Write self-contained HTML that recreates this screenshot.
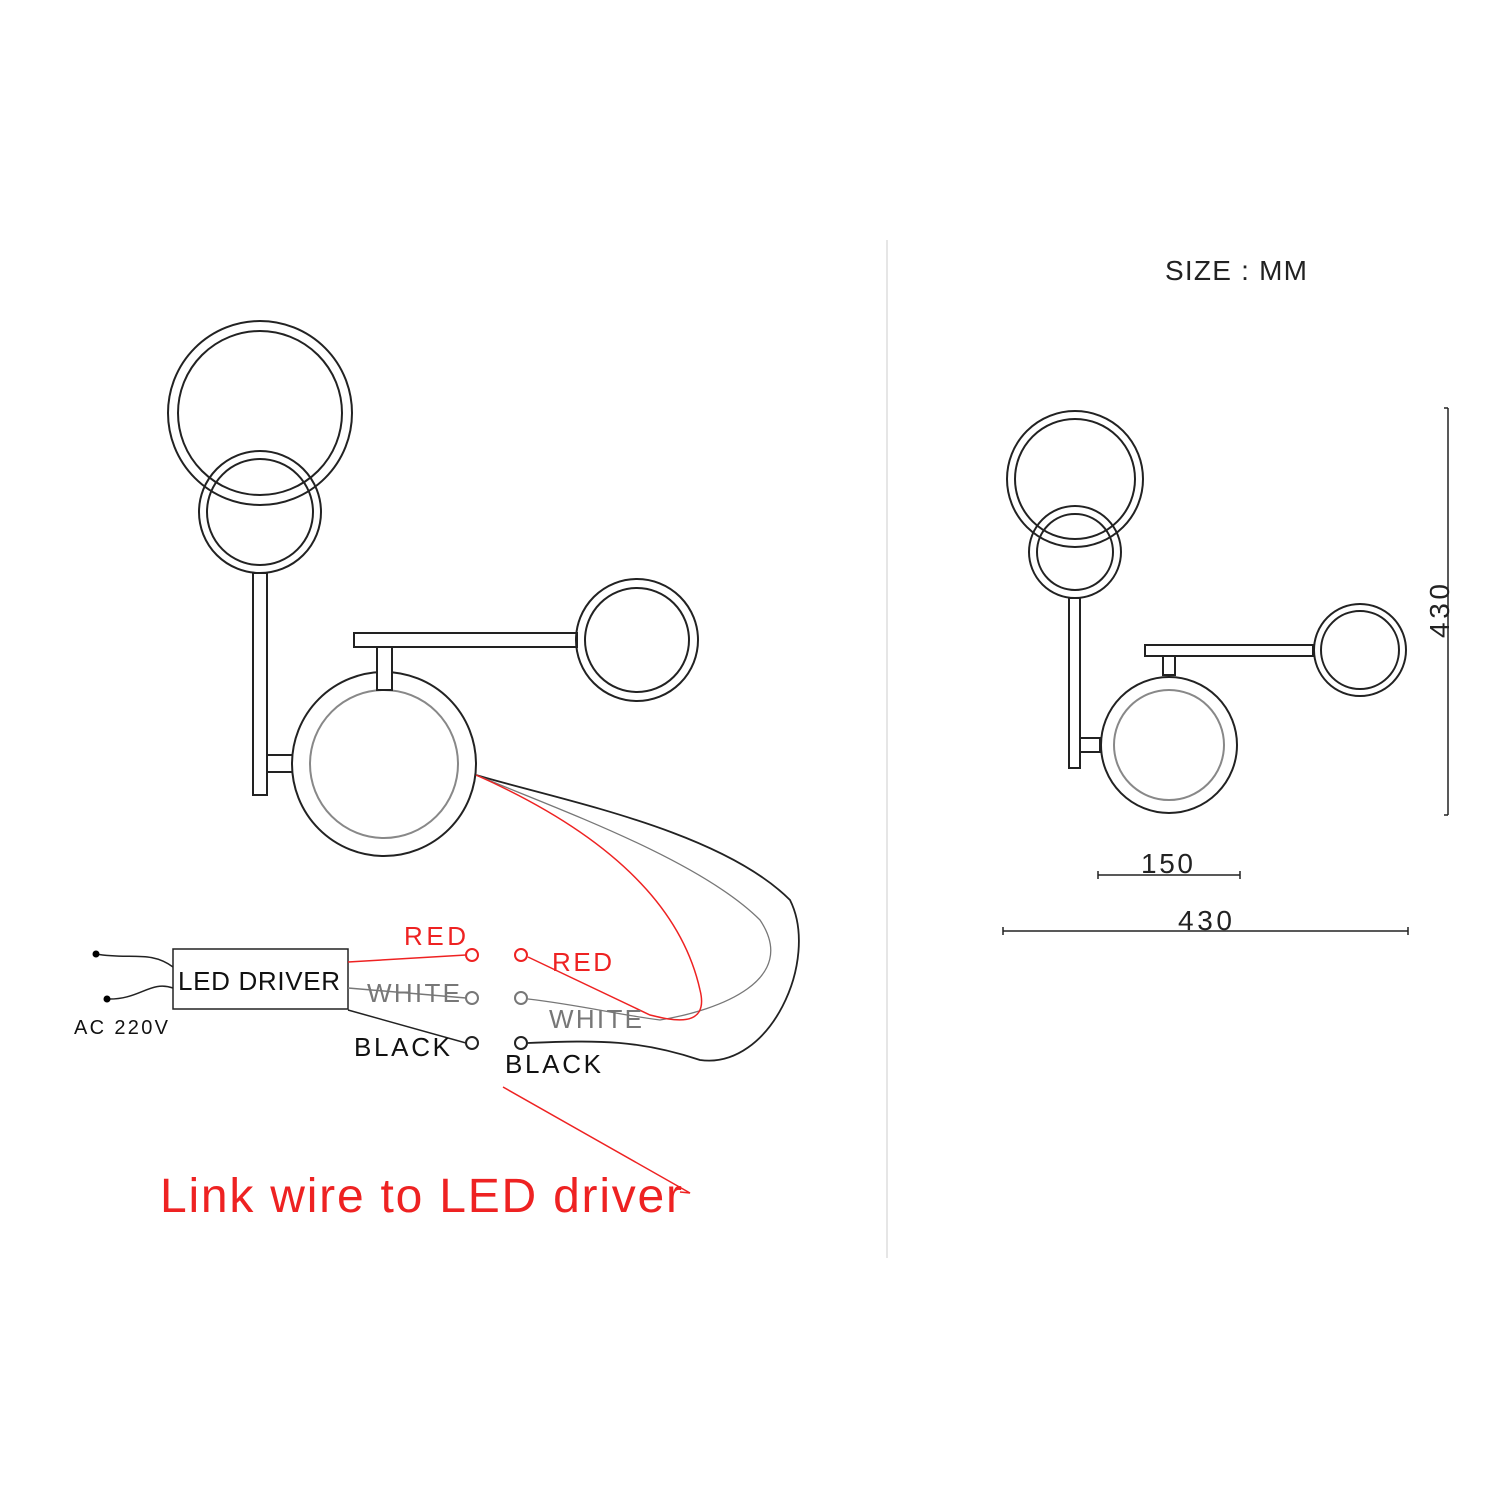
<html><body style="margin:0;background:#fff">
<svg width="1500" height="1500" xmlns="http://www.w3.org/2000/svg" font-family="Liberation Sans, sans-serif">
<rect width="1500" height="1500" fill="#fff"/>
<line x1="887" y1="240" x2="887" y2="1258" stroke="#ddd" stroke-width="1.5"/>
<g fill="none" stroke="#222" stroke-width="2">
<circle cx="260" cy="413" r="92"/><circle cx="260" cy="413" r="82"/>
<circle cx="260" cy="512" r="61"/><circle cx="260" cy="512" r="53"/>
<rect x="253" y="573" width="14" height="222" fill="#fff"/>
<rect x="267" y="755" width="43" height="17"/>
<circle cx="384" cy="764" r="92" fill="#fff"/><circle cx="384" cy="764" r="74" stroke="#888"/>
<rect x="354" y="633" width="223" height="14"/>
<rect x="377" y="647" width="15" height="43" fill="#fff"/>
<circle cx="637" cy="640" r="61"/><circle cx="637" cy="640" r="52"/>

<circle cx="1075" cy="479" r="68"/><circle cx="1075" cy="479" r="60"/>
<circle cx="1075" cy="552" r="46"/><circle cx="1075" cy="552" r="38"/>
<rect x="1069" y="598" width="11" height="170" fill="#fff"/>
<rect x="1080" y="738" width="20" height="14"/>
<circle cx="1169" cy="745" r="68" fill="#fff"/><circle cx="1169" cy="745" r="55" stroke="#888"/>
<rect x="1145" y="645" width="168" height="11"/>
<rect x="1163" y="656" width="12" height="19" fill="#fff"/>
<circle cx="1360" cy="650" r="46"/><circle cx="1360" cy="650" r="39"/>
<path d="M1448 408V815M1444 408h4M1444 815h4" stroke-width="1.5"/>
<path d="M1098 875H1240M1098 871v8M1240 871v8" stroke-width="1.5"/>
<path d="M1003 931H1408M1003 927v8M1408 927v8" stroke-width="1.5"/>

<path d="M476 775 C560 800 720 830 790 900 C820 960 770 1070 700 1060 C640 1040 600 1040 528 1043" stroke-width="1.8"/>
<path d="M476 775 C560 810 700 860 760 920 C800 980 720 1010 660 1020 C620 1015 580 1005 528 999" stroke="#777" stroke-width="1.3"/>
<path d="M476 775 C600 830 680 900 700 990 C710 1030 670 1020 650 1015 L528 957" stroke="#e22" stroke-width="1.5"/>
<rect x="173" y="949" width="175" height="60" stroke-width="1.5"/>
<path d="M96 954 C130 960 150 950 173 967" stroke-width="1.5"/>
<path d="M107 999 C140 1000 150 980 173 988" stroke-width="1.5"/>
<path d="M348 962 L466 955" stroke="#e22" stroke-width="1.5"/>
<path d="M348 988 L466 998" stroke="#777" stroke-width="1.5"/>
<path d="M348 1010 L466 1043" stroke-width="1.5"/>
<circle cx="472" cy="955" r="6" stroke="#e22"/><circle cx="521" cy="955" r="6" stroke="#e22"/>
<circle cx="472" cy="998" r="6" stroke="#777"/><circle cx="521" cy="998" r="6" stroke="#777"/>
<circle cx="472" cy="1043" r="6"/><circle cx="521" cy="1043" r="6"/>
<path d="M503 1087 L690 1193 L680 1192" stroke="#e22" stroke-width="1.5"/>
</g>
<circle cx="96" cy="954" r="3.5"/><circle cx="107" cy="999" r="3.5"/>
<g font-size="26">
<text x="178" y="990" fill="#111" textLength="162">LED DRIVER</text>
<text x="404" y="945" fill="#e22" textLength="62">RED</text>
<text x="552" y="971" fill="#e22" textLength="60">RED</text>
<text x="367" y="1002" fill="#777" textLength="93">WHITE</text>
<text x="549" y="1028" fill="#777" textLength="93">WHITE</text>
<text x="354" y="1056" fill="#111" textLength="96">BLACK</text>
<text x="505" y="1073" fill="#111" textLength="96">BLACK</text>
<text x="1165" y="280" fill="#222" font-size="28" textLength="142">SIZE : MM</text>
<text x="1141" y="873" fill="#222" font-size="28" textLength="52">150</text>
<text x="1178" y="930" fill="#222" font-size="28" textLength="54">430</text>
<text transform="translate(1449,638) rotate(-90)" fill="#222" font-size="28" textLength="54">430</text>
</g>
<text x="74" y="1034" font-size="20" fill="#111" textLength="94">AC 220V</text>
<text x="160" y="1212" font-size="48" fill="#e22" textLength="522">Link wire to LED driver</text>
</svg>
</body></html>
